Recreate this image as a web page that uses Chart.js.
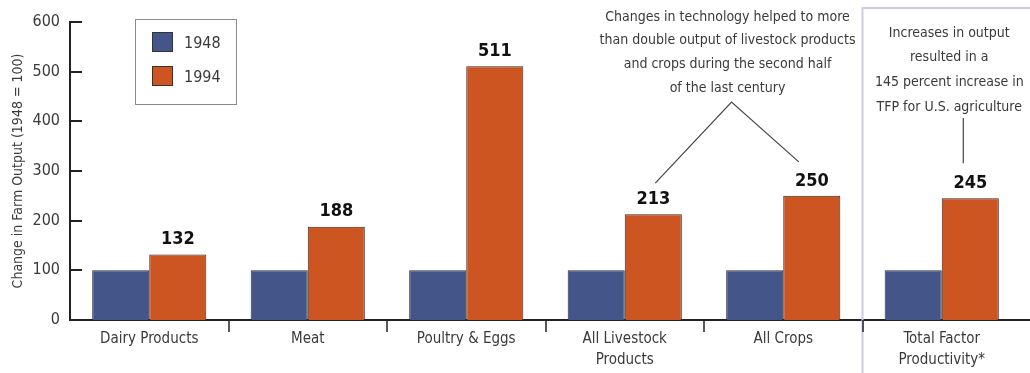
<!DOCTYPE html>
<html>
<head>
<meta charset="utf-8">
<script src="https://cdn.jsdelivr.net/npm/chart.js@4/dist/chart.umd.min.js"></script>
<style>
  html, body { margin: 0; padding: 0; background: #fff; }
  #wrap { width: 1030px; height: 373px; }
</style>
</head>
<body>
<div id="wrap"><canvas id="myChart" width="1030" height="373"></canvas></div>
<script>
// chart data
var categories = [["Dairy Products"], ["Meat"], ["Poultry & Eggs"], ["All Livestock", "Products"], ["All Crops"], ["Total Factor", "Productivity*"]];
var seriesNames = ["1948", "1994"];
var values1948 = [100, 100, 100, 100, 100, 100];
var values1994 = [132, 188, 511, 213, 250, 245];
var yTicks = [0, 100, 200, 300, 400, 500, 600];
var noteLivestock = ["Changes in technology helped to more", "than double output of livestock products", "and crops during the second half", "of the last century"];
var noteTfp = ["Increases in output", "resulted in a", "145 percent increase in", "TFP for U.S. agriculture"];

var FONT = "'Liberation Sans Narrow', 'DejaVu Sans Condensed', 'Roboto Condensed', sans-serif";
var TEXT = "#3a3a3a";
var BLUE = "#44558a";
var ORANGE = "#cd5522";

// helper: boundary between category i-1 and i
function boundary(x, i) {
    var half = (x.getPixelForTick(1) - x.getPixelForTick(0)) / 2;
    return x.getPixelForTick(0) + (i * 2 - 1) * half;
}

var extras = {
    id: "extras",
    beforeDatasetsDraw: function (chart) {
        var ctx = chart.ctx;
        var x = chart.scales.x;
        // light box around the TFP category
        var bx = boundary(x, 5);
        ctx.save();
        ctx.strokeStyle = "#cbcbe2";
        ctx.lineWidth = 2;
        ctx.beginPath();
        ctx.moveTo(bx, chart.height);
        ctx.lineTo(bx, 8);
        ctx.lineTo(chart.width, 8);
        ctx.stroke();
        ctx.restore();
    },
    afterDraw: function (chart) {
        var ctx = chart.ctx;
        var x = chart.scales.x;
        var y = chart.scales.y;
        var area = chart.chartArea;
        ctx.save();

        // axis line runs to the edge
        ctx.strokeStyle = "#222";
        ctx.lineWidth = 2;
        ctx.beginPath();
        ctx.moveTo(area.right, area.bottom);
        ctx.lineTo(chart.width, area.bottom);
        ctx.stroke();

        // inward y ticks
        yTicks.forEach(function (v) {
            var py = Math.round(y.getPixelForValue(v));
            if (v === 0) return;
            ctx.beginPath();
            ctx.moveTo(area.left, py);
            ctx.lineTo(area.left + 12, py);
            ctx.stroke();
        });

        // category separator ticks
        ctx.lineWidth = 1.5;
        for (var i = 1; i < categories.length; i++) {
            var bx = Math.round(boundary(x, i));
            ctx.beginPath();
            ctx.moveTo(bx, area.bottom);
            ctx.lineTo(bx, area.bottom + 12);
            ctx.stroke();
        }

        // value labels above 1994 bars
        var meta = chart.getDatasetMeta(1);
        ctx.fillStyle = "#111";
        ctx.font = "bold 18px " + FONT;
        ctx.textAlign = "center";
        ctx.textBaseline = "bottom";
        meta.data.forEach(function (bar, i) {
            ctx.fillText(String(values1994[i]), bar.x, bar.y - 6);
        });

        // legend box
        ctx.strokeStyle = "#8a8a8a";
        ctx.lineWidth = 1;
        ctx.strokeRect(135.5, 19.5, 101, 85);
        var colors = [BLUE, ORANGE];
        ctx.font = "16px " + FONT;
        ctx.textAlign = "left";
        ctx.textBaseline = "middle";
        seriesNames.forEach(function (name, i) {
            var top = 32 + i * 34;
            ctx.fillStyle = colors[i];
            ctx.fillRect(152, top, 21, 20);
            ctx.strokeStyle = "#333";
            ctx.strokeRect(152.5, top + 0.5, 20, 19);
            ctx.fillStyle = TEXT;
            ctx.fillText(name, 184, top + 12);
        });

        // annotation: livestock and crops
        var bLive = meta.data[3];
        var bCrop = meta.data[4];
        var bTfp = meta.data[5];
        ctx.fillStyle = TEXT;
        ctx.font = "14px " + FONT;
        ctx.textAlign = "center";
        ctx.textBaseline = "middle";
        var cx = (bLive.x + bCrop.x) / 2 - 5;
        noteLivestock.forEach(function (line, i) {
            ctx.fillText(line, cx, 17 + i * 23.7);
        });
        ctx.strokeStyle = "#444";
        ctx.lineWidth = 1.2;
        ctx.beginPath();
        ctx.moveTo(bLive.x + 2, bLive.y - 31);
        ctx.lineTo(cx + 4, 102);
        ctx.lineTo(bCrop.x - 13, bCrop.y - 34);
        ctx.stroke();

        // annotation: TFP
        noteTfp.forEach(function (line, i) {
            ctx.fillText(line, bTfp.x - 21, 33 + i * 24.7);
        });
        ctx.beginPath();
        ctx.moveTo(bTfp.x - 7, 118);
        ctx.lineTo(bTfp.x - 7, bTfp.y - 35);
        ctx.stroke();

        ctx.restore();
    }
};

var ctx = document.getElementById("myChart").getContext("2d");
var myChart = new Chart(ctx, {
    type: "bar",
    data: {
        labels: categories,
        datasets: [
            {
                label: seriesNames[0],
                data: values1948,
                backgroundColor: BLUE,
                borderColor: "#2c2c3c",
                borderWidth: 1,
            },
            {
                label: seriesNames[1],
                data: values1994,
                backgroundColor: ORANGE,
                borderColor: "#3a2a20",
                borderWidth: 1,
            },
        ],
    },
    options: {
        responsive: false,
        animation: false,
        layout: { padding: { top: 22, right: 9, left: 0, bottom: 0 } },
        datasets: {
            bar: { categoryPercentage: 0.72, barPercentage: 1.0 },
        },
        scales: {
            x: {
                grid: { display: false, drawTicks: false },
                border: { display: true, color: "#222", width: 2 },
                ticks: {
                    color: TEXT,
                    font: { family: FONT, size: 15, lineHeight: 1.4 },
                    padding: 9,
                    maxRotation: 0,
                    autoSkip: false,
                },
                afterFit: function (scale) { scale.height = 53; },
            },
            y: {
                min: 0,
                max: 600,
                afterBuildTicks: function (scale) {
                    scale.ticks = yTicks.map(function (v) { return { value: v }; });
                },
                grid: { display: false, drawTicks: false },
                border: { display: true, color: "#222", width: 2 },
                ticks: {
                    color: TEXT,
                    font: { family: FONT, size: 16 },
                    padding: 10,
                },
                title: {
                    display: true,
                    text: "Change in Farm Output (1948 = 100)",
                    color: TEXT,
                    font: { family: FONT, size: 14 },
                    padding: { top: 10, bottom: 0 },
                },
                afterFit: function (scale) { scale.width = 70; },
            },
        },
        plugins: {
            legend: { display: false },
            tooltip: { enabled: false },
        },
    },
    plugins: [extras],
});
</script>
</body>
</html>
